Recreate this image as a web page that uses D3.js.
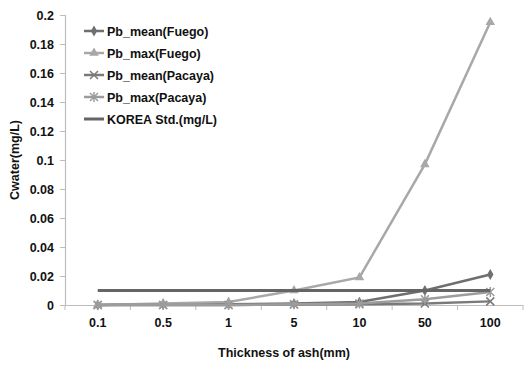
<!DOCTYPE html>
<html><head><meta charset="utf-8">
<script src="https://cdn.jsdelivr.net/npm/d3@7/dist/d3.min.js"></script>
<style>body{margin:0;background:#fff}text{font-family:"Liberation Sans",Arial,sans-serif;font-weight:bold}</style>
</head><body><svg id="c" width="529" height="365"></svg>
<script>
const categories = ["0.1","0.5","1","5","10","50","100"];
const pbMeanFuego = [0, 0.0005, 0.0005, 0.001, 0.002, 0.010, 0.021];
const pbMaxFuego = [0, 0.001, 0.002, 0.010, 0.019, 0.097, 0.195];
const pbMeanPacaya = [0, 0, 0, 0.0003, 0.0005, 0.001, 0.0025];
const pbMaxPacaya = [0, 0, 0, 0.0005, 0.001, 0.004, 0.009];
const koreaStd = [0.01, 0.01, 0.01, 0.01, 0.01, 0.01, 0.01];
const yTicks = [0,0.02,0.04,0.06,0.08,0.1,0.12,0.14,0.16,0.18,0.2];

const series = [
  {name:"Pb_mean(Fuego)", values:pbMeanFuego, color:"#6f6f6f", marker:"diamond", w:2.5},
  {name:"Pb_max(Fuego)", values:pbMaxFuego, color:"#a8a8a8", marker:"triangle", w:2.5},
  {name:"Pb_mean(Pacaya)", values:pbMeanPacaya, color:"#7a7a7a", marker:"x", w:2.5},
  {name:"Pb_max(Pacaya)", values:pbMaxPacaya, color:"#9c9c9c", marker:"star", w:2.5},
  {name:"KOREA Std.(mg/L)", values:koreaStd, color:"#656565", marker:null, w:3}
];

const svg = d3.select("#c");
const L=65, R=523, T=15, B=305;
const x = d3.scaleBand().domain(categories).range([L,R]);
const y = d3.scaleLinear().domain([0,0.2]).range([B,T]);

// y axis
const ya = svg.append("g").attr("transform",`translate(${L},0)`)
  .call(d3.axisLeft(y).tickValues(yTicks).tickSize(5).tickPadding(6).tickFormat(d=>d3.format("~g")(d)));
ya.select(".domain").attr("stroke","#bdbdbd").attr("stroke-width",1.2);
ya.selectAll(".tick line").attr("stroke","#bdbdbd");
ya.selectAll("text").attr("font-size",12.5).attr("fill","#111").style("font-family","Liberation Sans, Arial").style("font-weight","bold");

// x axis
const xa = svg.append("g").attr("transform",`translate(0,${B})`)
  .call(d3.axisBottom(x).tickSize(0).tickPadding(13));
xa.select(".domain").attr("stroke","#bdbdbd").attr("stroke-width",1.2);
xa.selectAll("text").attr("font-size",12.5).attr("fill","#111").style("font-family","Liberation Sans, Arial").style("font-weight","bold");
const bounds = categories.map(c=>x(c)).concat([R]);
svg.append("g").selectAll("line").data(bounds).join("line")
  .attr("x1",d=>d).attr("x2",d=>d).attr("y1",B).attr("y2",B+5).attr("stroke","#bdbdbd");

// titles
svg.append("text").attr("x",(L+R)/2-10).attr("y",357).attr("text-anchor","middle")
  .attr("font-size",12.5).attr("fill","#111").text("Thickness of ash(mm)");
svg.append("text").attr("transform","translate(19,160) rotate(-90)").attr("text-anchor","middle")
  .attr("font-size",12.5).attr("fill","#111").text("Cwater(mg/L)");

function drawMarker(g, type, cx, cy, color){
  if(type==="diamond") g.append("path").attr("d",d3.symbol(d3.symbolDiamond,34)()).attr("transform",`translate(${cx},${cy})`).attr("fill",color);
  else if(type==="triangle") g.append("path").attr("d",d3.symbol(d3.symbolTriangle,40)()).attr("transform",`translate(${cx},${cy})`).attr("fill",color);
  else if(type==="x") g.append("path").attr("d",`M${cx-4},${cy-4}L${cx+4},${cy+4}M${cx-4},${cy+4}L${cx+4},${cy-4}`).attr("stroke",color).attr("stroke-width",1.5);
  else if(type==="star") g.append("path").attr("d",`M${cx-4},${cy-4}L${cx+4},${cy+4}M${cx-4},${cy+4}L${cx+4},${cy-4}M${cx},${cy-5}L${cx},${cy+5}`).attr("stroke",color).attr("stroke-width",1.5);
}

const line = d3.line().x((d,i)=>x(categories[i])+x.bandwidth()/2).y(d=>y(d));
series.forEach(s=>{
  const g = svg.append("g");
  g.append("path").attr("d",line(s.values)).attr("fill","none").attr("stroke",s.color).attr("stroke-width",s.w);
  if(s.marker) s.values.forEach((v,i)=>drawMarker(g,s.marker,x(categories[i])+x.bandwidth()/2,y(v),s.color));
});

// legend
const lg = svg.append("g");
series.forEach((s,i)=>{
  const yy = 31 + i*22;
  lg.append("line").attr("x1",84).attr("x2",104).attr("y1",yy).attr("y2",yy).attr("stroke",s.color).attr("stroke-width",s.w);
  if(s.marker) drawMarker(lg,s.marker,94,yy,s.color);
  lg.append("text").attr("x",107).attr("y",yy+4.5).attr("font-size",12.5).attr("fill","#111").text(s.name);
});
</script></body></html>
